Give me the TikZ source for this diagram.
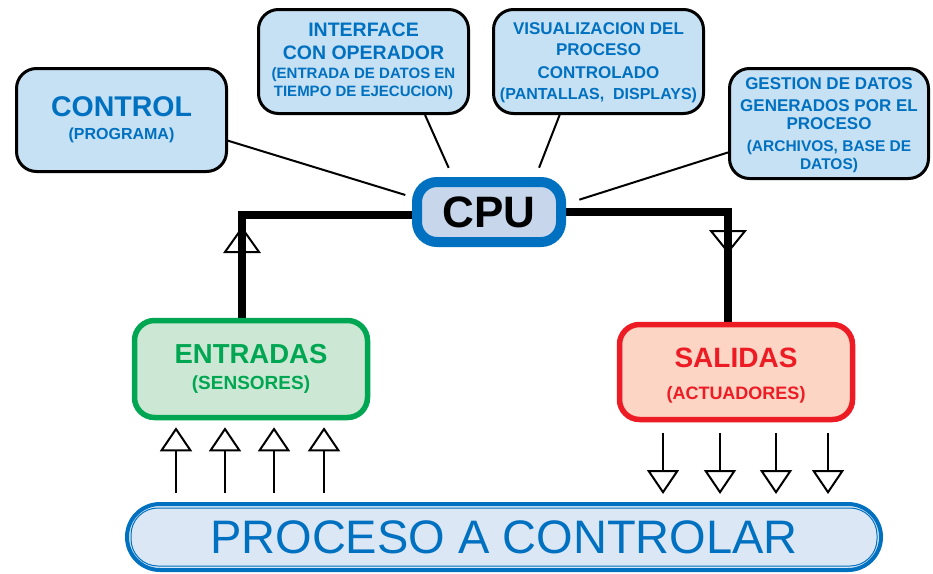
\documentclass[tikz,border=0pt]{standalone}
\usepackage{fontspec}
\setmainfont{Liberation Sans}
\usetikzlibrary{arrows.meta,calc,backgrounds}
\newcommand\myfs[1]{\fontsize{#1}{#1}\selectfont}
\definecolor{boxfill}{RGB}{198,224,244}
\definecolor{tblue}{RGB}{0,112,192}
\definecolor{cpufill}{RGB}{200,214,236}
\definecolor{ggreen}{RGB}{0,166,81}
\definecolor{gfill}{RGB}{204,232,213}
\definecolor{rred}{RGB}{237,28,36}
\definecolor{rfill}{RGB}{252,213,197}
\definecolor{pfill}{RGB}{220,231,245}
\tikzset{
  infobox/.style={draw=black, line width=3pt, fill=boxfill, rounded corners=20pt,
    text=tblue, align=center, inner sep=0pt},
  cpubox/.style={draw=tblue, line width=10pt, fill=cpufill, rounded corners=20pt,
    inner sep=0pt, font=\bfseries\myfs{44}},
  inbox/.style={draw=ggreen, line width=5.5pt, fill=gfill, rounded corners=20pt,
    text=ggreen, align=center, inner sep=0pt},
  outbox/.style={draw=rred, line width=5.5pt, fill=rfill, rounded corners=20pt,
    text=rred, align=center, inner sep=0pt},
  procbox/.style={draw=tblue, line width=4pt, fill=pfill, rounded corners=33pt,
    text=tblue, inner sep=0pt, font=\myfs{47}},
  thinlink/.style={line width=2pt},
  bus/.style={line width=8pt, line join=miter},
  bustri/.style={line width=2pt, fill=white, line join=miter},
  uparr/.style={line width=2pt, -{Triangle[open, length=24pt, width=32pt]}},
}
\begin{document}
\begin{tikzpicture}[x=1pt,y=-1pt]
\useasboundingbox (0,0) rectangle (933,573);

\node[infobox, minimum width=210, minimum height=103, font=\bfseries\fontsize{16}{23}\selectfont]
  (ctrl) at (121.5,120) {{\myfs{28.5}CONTROL}\\(PROGRAMA)};
\node[infobox, minimum width=210, minimum height=104, font=\bfseries\fontsize{15}{18}\selectfont]
  (intf) at (363.5,61.5) {{\myfs{19.5}INTERFACE}\\[5pt]{\myfs{19.5}CON OPERADOR}\\[1pt](ENTRADA DE DATOS EN\\TIEMPO DE EJECUCION)};
\node[infobox, minimum width=210, minimum height=104, font=\bfseries\fontsize{16}{18}\selectfont]
  (visu) at (598.5,61.5) {{\myfs{17}\rule{0pt}{15pt}VISUALIZACION DEL}\\[3pt]{\myfs{17}PROCESO}\\[5pt]{\myfs{17}CONTROLADO}\\[3pt](PANTALLAS,\ \ DISPLAYS)};
\node[infobox, minimum width=199, minimum height=110, font=\bfseries\fontsize{15.5}{17}\selectfont]
  (gest) at (829,123.5) {{\myfs{17}\rule{0pt}{15pt}GESTION DE DATOS}\\[5pt]{\myfs{17}GENERADOS POR EL}\\[1pt]{\myfs{17}PROCESO}\\[5pt](ARCHIVOS, BASE DE\\[1pt]DATOS)};
\node[cpubox, minimum width=144, minimum height=60] (cpu) at (489,212) {CPU};
\node[inbox, minimum width=233, minimum height=97, font=\bfseries\fontsize{19}{26}\selectfont]
  (entr) at (251,369) {{\myfs{27.5}ENTRADAS}\\(SENSORES)};
\node[outbox, minimum width=233, minimum height=95, font=\bfseries\fontsize{18}{32}\selectfont]
  (sal) at (736,372) {{\myfs{28}\rule{0pt}{27pt}SALIDAS}\\(ACTUADORES)};
\node[procbox, minimum width=754, minimum height=66] (proc) at (504,537) {PROCESO A CONTROLAR};
\draw[tblue, line width=1pt, rounded corners=27pt]
  ($(proc.south west)+(6,-6)$) rectangle ($(proc.north east)+(-6,6)$);

\begin{scope}[on background layer]
  % open triangles on the bus
  \draw[bustri] (225,252) -- (242,228) -- (259,252) -- cycle;
  \draw[bustri] (711,231) -- (745,231) -- (728,252) -- cycle;
  % bus lines
  \draw[bus] ([yshift=-3pt]cpu.west) -| ([xshift=-9pt]entr.north);
  \draw[bus] (cpu.east) -| ([xshift=-8pt]sal.north);
  % thin links
  \draw[thinlink, shorten <=-4pt, shorten >=7pt] (ctrl.-11.4) -- (cpu.169.1);
  \draw[thinlink, shorten >=10pt] (intf.-41.5) -- (cpu.136.4);
  \draw[thinlink, shorten >=10pt] (visu.234.3) -- (cpu.37);
  \draw[thinlink, shorten >=14pt] (gest.196.3) -- (cpu.6.1);
\end{scope}

% sensor arrows
\foreach \i/\xx in {1/176,2/225,3/274,4/324} {
  \coordinate (ia\i) at (\xx,0);
  \draw[uparr, shorten <=9pt, shorten >=7pt] (ia\i |- proc.north) -- (ia\i |- entr.south);
}
% actuator arrows
\foreach \i/\xx in {1/663,2/720,3/776,4/828} {
  \coordinate (oa\i) at (\xx,0);
  \draw[uparr, shorten <=10.5pt, shorten >=8pt] (oa\i |- sal.south) -- (oa\i |- proc.north);
}
\end{tikzpicture}
\end{document}
